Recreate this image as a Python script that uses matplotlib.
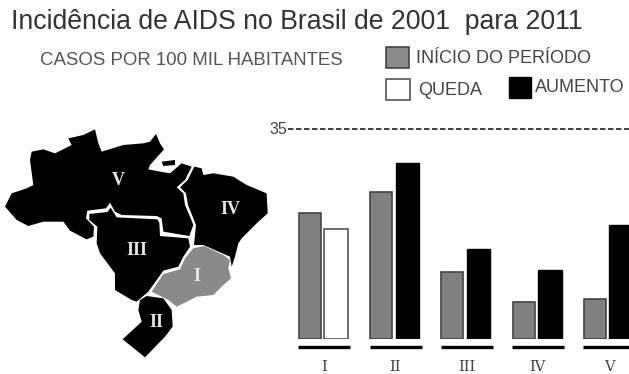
#!/usr/bin/env python

import matplotlib
matplotlib.use("Agg")
import matplotlib.pyplot as plt
from matplotlib.patches import Polygon, Rectangle

W, H = 629, 374

# values, cases per 100 thousand
regions = ["I", "II", "III", "IV", "V"]
start_values = [21.0, 24.6, 11.2, 6.2, 6.6]
end_values = [18.4, 29.4, 15.0, 11.5, 19.0]
ref_value = 35

# map outlines
region_v = [(15, 290), (35, 250), (80, 235), (100, 225), (90, 150), (95, 125), (130, 118), (165, 130),
            (215, 105), (205, 85), (250, 75), (285, 58), (295, 100), (305, 125), (370, 105), (430, 100),
            (450, 95), (468, 72), (480, 100), (492, 118), (450, 165), (445, 178), (480, 185), (510, 190),
            (545, 160), (575, 170), (555, 210), (530, 232), (550, 250), (555, 285), (570, 320), (580, 345),
            (568, 378), (490, 365), (485, 325), (470, 318), (365, 315), (345, 305), (330, 278), (318, 295),
            (262, 302), (258, 325), (282, 350), (280, 380), (260, 388), (210, 362), (190, 335), (130, 335),
            (85, 348), (50, 330)]
island = [(485, 155), (525, 150), (525, 165), (490, 168)]
region_iii = [(268, 312), (322, 306), (332, 293), (350, 322), (472, 328), (478, 338), (480, 378), (565, 385),
              (570, 410), (550, 440), (535, 470), (490, 482), (445, 545), (410, 575), (395, 570), (345, 540),
              (345, 490), (300, 430), (290, 400), (292, 350), (268, 330)]
region_iv = [(583, 170), (605, 175), (610, 195), (640, 190), (700, 200), (740, 225), (800, 250), (803, 310),
             (770, 340), (725, 385), (715, 400), (705, 440), (695, 470), (690, 440), (610, 405), (582, 405),
             (588, 345), (578, 320), (564, 285), (558, 250), (540, 232), (563, 210)]
region_i = [(580, 415), (612, 408), (670, 435), (690, 450), (685, 475), (693, 505), (665, 530), (640, 555),
            (590, 560), (530, 590), (505, 570), (455, 545), (490, 492), (540, 478), (555, 445)]
region_ii = [(440, 558), (490, 565), (515, 600), (518, 650), (495, 680), (435, 742), (368, 688), (425, 635),
             (415, 600), (420, 570)]

plt.rcParams['font.family'] = ['Liberation Sans', 'DejaVu Sans']

fig = plt.figure(figsize=(W / 100, H / 100), dpi=100)

# full figure axes in pixels, for title and legend
page = fig.add_axes([0, 0, 1, 1])
page.set_xlim(0, W)
page.set_ylim(H, 0)
page.axis("off")

page.text(11, 22, "Incidência de AIDS no Brasil de 2001  para 2011", fontsize=19.2, color="#333333", va="center")
page.text(40, 60, "CASOS POR 100 MIL HABITANTES", fontsize=13.4, color="#555555", va="center")
page.add_patch(Rectangle((386, 47), 23, 21, fc="#8c8c8c", ec="#444444", lw=1.2))
page.add_patch(Rectangle((386, 79), 24, 21, fc="white", ec="#555555", lw=1.2))
page.add_patch(Rectangle((509, 77), 22, 21, fc="black", ec="black", lw=1))
page.text(416, 58, "INÍCIO DO PERÍODO", fontsize=13, color="#444444", va="center")
page.text(418, 90, "QUEDA", fontsize=13, color="#444444", va="center")
page.text(535, 87, "AUMENTO", fontsize=13, color="#444444", va="center")

# map, in the coordinates of the tracing
geo = fig.add_axes([0, 0, 280 / W, 264 / H])
geo.set_xlim(0, 840)
geo.set_ylim(792, 0)
geo.axis("off")
for shape, colour in [(region_v, "black"), (island, "black"), (region_iii, "black"), (region_iv, "black"),
                      (region_i, "#8a8a8a"), (region_ii, "black")]:
    geo.add_patch(Polygon(shape, closed=True, fc=colour, ec="none"))
for name, x, y in [("V", 355, 212), ("IV", 690, 298), ("III", 410, 420), ("I", 590, 500), ("II", 468, 638)]:
    geo.text(x, y, name, family="Liberation Serif", fontweight="bold", fontsize=13, color="#e8e8e8",
             ha="center", va="center")

# bars
ax = fig.add_axes([270 / W, (H - 339) / H, 359 / W, 229 / H])
ax.patch.set_alpha(0)
step = 71.3
ax.set_xlim((270 - 322.5) / step, (629 - 322.5) / step)
ax.set_ylim(0, 229 / 5.99)
ax.axis("off")
xs = list(range(len(regions)))
ax.bar([x - 0.18 for x in xs], start_values, width=0.31, color="#808080", edgecolor="#444444", linewidth=1.2)
for x, a, b in zip(xs, start_values, end_values):
    if b < a:
        ax.bar(x + 0.19, b, width=0.33, color="white", edgecolor="#555555", linewidth=1.2)
    else:
        ax.bar(x + 0.19, b, width=0.33, color="black", edgecolor="black", linewidth=1)
ax.plot([(288 - 322.5) / step, (629 - 322.5) / step], [ref_value, ref_value], color="#222222", lw=1.2,
        dashes=(3.2, 1.6))
ax.text((287 - 322.5) / step, ref_value, "35", fontsize=11.5, color="#444444", ha="right", va="center")
for x, name in zip(xs, regions):
    ax.plot([x - 0.34, x + 0.39], [-1.4, -1.4], color="black", lw=2.4, clip_on=False, solid_capstyle="butt")
    ax.text(x + 0.02, -4.6, name, family="DejaVu Serif", fontsize=10.5, color="#444444", ha="center",
            va="center", clip_on=False)

fig.savefig("out.png", dpi=100)
